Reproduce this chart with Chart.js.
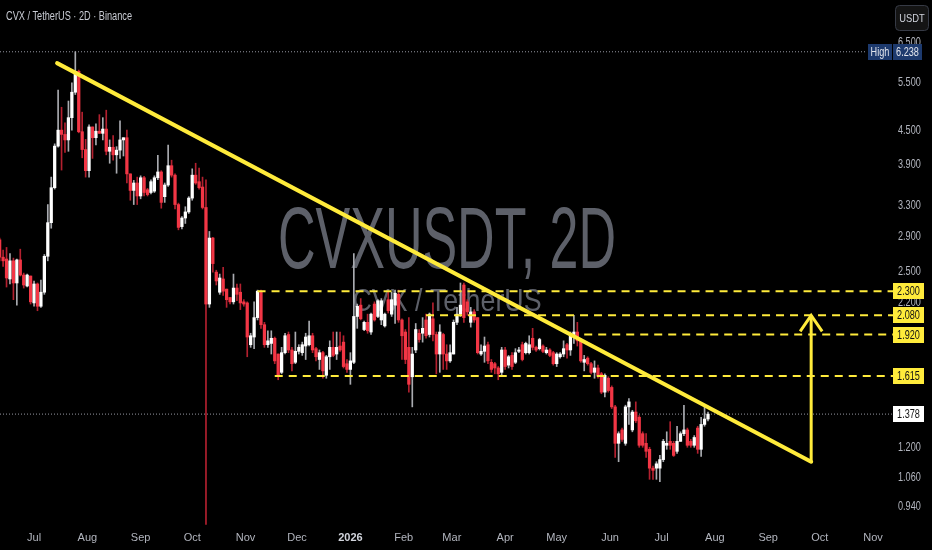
<!DOCTYPE html>
<html>
<head>
<meta charset="utf-8">
<script src="https://cdn.jsdelivr.net/npm/chart.js@4.4.1/dist/chart.umd.min.js"></script>
<style>
  html, body { margin: 0; padding: 0; background: #000; }
  #wrap { width: 932px; height: 550px; position: relative; }
</style>
</head>
<body>
<div id="wrap"><canvas id="chart"></canvas></div>
<script>
// 2D candles, first one on 2025-06-11 (day -20, days counted from 2025-07-01)
const firstDay = -20;
const opens = [2.85,2.65,2.63,2.42,2.61,2.38,2.62,2.46,2.35,2.45,2.19,2.37,2.16,2.29,2.66,3.06,3.54,4.21,4.50,4.42,
  4.32,4.74,5.27,5.75,4.47,4.15,3.80,4.56,4.36,4.48,4.44,4.52,4.12,4.19,4.06,4.14,4.32,4.36,3.75,3.50,
  3.61,3.42,3.69,3.51,3.47,3.49,3.69,3.78,3.41,3.58,3.88,3.73,3.30,3.01,3.12,3.20,3.39,3.73,3.63,3.55,
  3.26,2.18,2.87,2.49,2.29,2.42,2.32,2.24,2.20,2.33,2.29,2.20,2.19,1.84,1.90,2.06,2.30,2.00,1.84,1.85,
  1.89,1.77,1.64,1.78,1.92,1.80,1.71,1.79,1.78,1.83,1.84,1.91,1.81,1.73,1.78,1.62,1.75,1.82,1.77,1.83,
  1.86,1.70,1.66,1.71,2.07,2.17,1.96,2.02,1.94,2.18,2.07,2.04,1.99,2.22,2.09,2.17,2.27,2.04,1.94,1.82,
  1.61,1.80,1.93,1.93,2.04,1.92,2.05,1.92,1.77,1.92,1.77,1.72,1.77,2.02,2.09,2.36,2.20,2.02,2.11,2.06,
  1.77,1.79,1.84,1.71,1.70,1.67,1.64,1.80,1.69,1.76,1.71,1.79,1.84,1.78,1.78,1.89,1.82,1.81,1.83,1.78,
  1.80,1.78,1.70,1.75,1.77,1.84,1.80,1.91,1.94,1.88,1.71,1.74,1.70,1.64,1.67,1.63,1.51,1.60,1.54,1.42,
  1.22,1.29,1.22,1.42,1.29,1.39,1.36,1.27,1.22,1.19,1.10,1.10,1.10,1.14,1.21,1.23,1.22,1.18,1.23,1.27,
  1.29,1.23,1.21,1.30,1.19,1.32,1.35];
const highs = [2.87,2.73,2.76,2.69,2.64,2.63,2.74,2.48,2.47,2.45,2.40,2.38,2.41,2.68,3.30,3.70,4.25,5.32,4.95,4.64,
  5.08,5.48,6.238,5.78,4.85,4.33,4.60,4.56,4.62,4.80,4.74,4.89,4.32,4.40,4.20,4.68,4.36,4.50,3.75,3.65,
  3.70,3.72,3.71,3.53,3.66,3.72,4.05,3.80,3.61,4.23,3.97,3.75,3.32,3.14,3.27,3.41,3.83,3.92,3.84,3.70,
  3.66,2.95,2.88,2.51,2.47,2.54,2.32,2.24,2.47,2.37,2.37,2.22,2.20,1.93,2.20,2.31,2.31,2.02,1.95,1.95,
  1.90,1.77,1.82,1.93,1.94,1.82,1.94,1.84,1.86,1.93,2.03,1.93,1.82,1.80,1.79,1.76,1.87,1.94,1.94,1.94,
  1.91,1.73,1.78,2.69,2.18,2.23,2.03,2.09,2.10,2.20,2.22,2.23,2.10,2.30,2.29,2.31,2.31,2.05,1.96,2.06,
  1.82,2.01,1.96,2.06,2.09,2.10,2.19,1.94,2.00,1.93,1.84,1.84,2.04,2.15,2.38,2.38,2.22,2.15,2.13,2.06,
  1.84,1.90,1.86,1.73,1.71,1.68,1.82,1.82,1.76,1.78,1.81,1.82,1.86,1.86,1.91,1.97,1.83,1.89,1.84,1.82,
  1.81,1.79,1.78,1.78,1.87,1.85,1.94,2.08,2.02,1.89,1.76,1.75,1.71,1.72,1.69,1.64,1.63,1.61,1.55,1.43,
  1.28,1.30,1.43,1.47,1.40,1.45,1.37,1.28,1.27,1.20,1.11,1.13,1.16,1.24,1.28,1.335,1.23,1.31,1.28,1.43,
  1.30,1.24,1.26,1.31,1.36,1.42,1.39];
const lows = [2.61,2.55,2.34,2.37,2.22,2.17,2.45,2.33,2.34,2.18,2.16,2.12,2.15,2.27,2.61,2.99,3.52,4.19,3.81,4.10,
  4.12,4.50,5.22,4.45,4.01,3.70,3.70,4.00,4.23,4.44,4.32,4.06,3.92,3.97,3.76,4.00,4.04,3.61,3.36,3.30,
  3.30,3.38,3.42,3.42,3.45,3.47,3.66,3.25,3.33,3.56,3.70,3.24,2.97,2.98,3.05,3.18,3.36,3.59,3.52,3.24,
  0.87,2.15,2.49,2.36,2.27,2.26,2.15,2.18,2.18,2.21,2.13,2.16,1.75,1.82,1.81,2.04,1.97,1.82,1.82,1.77,
  1.70,1.59,1.63,1.77,1.78,1.65,1.70,1.77,1.76,1.73,1.83,1.78,1.72,1.66,1.60,1.60,1.66,1.75,1.73,1.79,
  1.67,1.64,1.56,1.70,1.97,2.04,1.95,1.93,1.92,2.03,2.06,2.00,1.98,2.10,2.07,2.01,2.02,1.73,1.70,1.51,
  1.42,1.78,1.86,1.86,1.89,1.90,1.87,1.63,1.64,1.66,1.66,1.71,1.77,2.00,2.07,2.02,2.08,1.98,2.02,1.77,
  1.76,1.71,1.70,1.64,1.63,1.59,1.62,1.66,1.67,1.66,1.70,1.78,1.72,1.77,1.77,1.80,1.79,1.80,1.78,1.77,
  1.75,1.69,1.68,1.74,1.75,1.74,1.76,1.85,1.83,1.71,1.65,1.69,1.63,1.60,1.60,1.50,1.48,1.51,1.41,1.15,
  1.13,1.23,1.21,1.32,1.28,1.33,1.20,1.20,1.15,1.05,1.05,1.05,1.04,1.13,1.19,1.19,1.155,1.17,1.23,1.26,
  1.20,1.20,1.20,1.17,1.155,1.31,1.34];
const closes = [2.65,2.61,2.43,2.61,2.38,2.62,2.46,2.36,2.46,2.20,2.37,2.16,2.29,2.66,3.06,3.54,4.21,4.50,4.42,4.32,
  4.74,5.27,5.75,4.47,4.15,3.80,4.56,4.36,4.48,4.44,4.52,4.12,4.19,4.06,4.14,4.32,4.36,3.75,3.50,3.61,
  3.42,3.69,3.47,3.44,3.63,3.69,3.78,3.33,3.58,3.88,3.73,3.30,3.00,3.12,3.20,3.39,3.73,3.61,3.54,3.26,
  2.18,2.87,2.58,2.40,2.43,2.30,2.22,2.20,2.33,2.27,2.19,2.18,1.90,1.91,2.06,2.30,2.00,1.84,1.87,1.89,
  1.72,1.62,1.78,1.91,1.80,1.70,1.79,1.82,1.84,1.90,1.91,1.80,1.75,1.78,1.65,1.75,1.82,1.76,1.82,1.80,
  1.68,1.66,1.72,2.07,2.16,2.05,2.02,1.95,2.09,2.04,2.21,2.21,2.09,2.12,2.22,2.28,2.04,1.91,1.73,1.56,
  1.77,1.96,1.88,1.97,1.91,2.09,1.92,1.77,1.94,1.77,1.72,1.78,2.02,2.09,2.17,2.06,2.11,2.11,2.04,1.78,
  1.79,1.83,1.72,1.66,1.67,1.63,1.80,1.68,1.75,1.68,1.78,1.80,1.73,1.85,1.84,1.82,1.80,1.88,1.79,1.80,
  1.76,1.70,1.77,1.77,1.81,1.80,1.91,1.94,1.87,1.72,1.73,1.70,1.64,1.67,1.62,1.51,1.62,1.52,1.42,1.22,
  1.27,1.24,1.42,1.45,1.39,1.34,1.21,1.21,1.18,1.10,1.09,1.12,1.14,1.23,1.22,1.21,1.16,1.23,1.27,1.29,
  1.21,1.21,1.25,1.19,1.32,1.35,1.378];

// x axis: month starts (days from 2025-07-01)
const monthDays = [0, 31, 62, 92, 123, 153, 184, 215, 243, 274, 304, 335, 365, 396, 427, 457, 488];
const monthLabels = ['Jul', 'Aug', 'Sep', 'Oct', 'Nov', 'Dec', '2026', 'Feb', 'Mar', 'Apr', 'May', 'Jun', 'Jul', 'Aug', 'Sep', 'Oct', 'Nov'];
const priceTicks = [0.94, 1.06, 1.2, 1.36, 2.2, 2.5, 2.9, 3.3, 3.9, 4.5, 5.5, 6.5];

// drawn levels and trendline
const levelPrices = [2.3, 2.08, 1.92, 1.615];
const levelStartDays = [130, 228, 320, 140];
const trendDays = [13.4, 452];
const trendPrices = [5.95, 1.13];
const arrowDays = [452, 452];
const arrowPrices = [1.13, 2.08];
const lastPrice = 1.378;
const highPrice = 6.238;

const X_MIN = -19.8, X_MAX = 499.6;
const UP = '#ffffff', UP_WICK = '#a9abb0', DOWN = '#f23645', DOWN_WICK = '#b3202f';
const YELLOW = '#ffeb3b';
const FONT = "'Liberation Sans', sans-serif";

const candleDays = opens.map((_, i) => firstDay + 2 * i);
const isUp = i => closes[i] >= opens[i];

const wickData = candleDays.map((d, i) => ({ x: d, y: [lows[i], highs[i]] }));
const bodyData = candleDays.map((d, i) => ({ x: d, y: [opens[i], closes[i]] }));

function hLine(price, from, to) {
  return [{ x: from, y: price }, { x: to, y: price }];
}

const datasets = [
  ...levelPrices.map((p, i) => ({
    type: 'line', data: hLine(p, levelStartDays[i], X_MAX), borderColor: YELLOW, borderWidth: 2,
    borderDash: [8, 6], pointRadius: 0, order: 0
  })),
  {
    type: 'line', data: trendDays.map((d, i) => ({ x: d, y: trendPrices[i] })),
    borderColor: YELLOW, borderWidth: 4, pointRadius: 0, borderCapStyle: 'round', order: 0
  },
  {
    type: 'line', data: arrowDays.map((d, i) => ({ x: d, y: arrowPrices[i] })),
    borderColor: YELLOW, borderWidth: 3, pointRadius: 0, order: 0
  },
  {
    type: 'bar', data: bodyData, grouped: false, barThickness: 2.6, minBarLength: 1,
    backgroundColor: c => isUp(c.dataIndex) ? UP : DOWN, borderWidth: 0, order: 1
  },
  {
    type: 'bar', data: wickData, grouped: false, barThickness: 1,
    backgroundColor: c => isUp(c.dataIndex) ? UP_WICK : DOWN_WICK, borderWidth: 0, order: 2
  },
  {
    type: 'line', data: hLine(lastPrice, X_MIN, X_MAX), borderColor: '#9598a1', borderWidth: 1,
    borderDash: [1, 2], pointRadius: 0, order: 3
  },
  {
    type: 'line', data: hLine(highPrice, X_MIN, 484), borderColor: '#9598a1', borderWidth: 1,
    borderDash: [1, 2], pointRadius: 0, order: 3
  }
];

// text squeezed horizontally, TradingView's UI font is narrower than Liberation Sans
function narrowText(ctx, text, x, y, size, sx, align, baseline) {
  ctx.font = size + 'px ' + FONT;
  ctx.save();
  ctx.translate(x, y);
  ctx.scale(sx, 1);
  ctx.textAlign = align;
  ctx.textBaseline = baseline;
  ctx.fillText(text, 0, 0);
  ctx.restore();
}

function fitText(ctx, text, cx, baseline, size, width) {
  ctx.font = size + 'px ' + FONT;
  const w = ctx.measureText(text).width;
  narrowText(ctx, text, cx, baseline, size, width / w, 'center', 'alphabetic');
}

function priceBox(ctx, x, y, w, text, fill, color) {
  const top = Math.round(y) - 8;
  ctx.fillStyle = fill;
  ctx.fillRect(x, top, w, 16);
  ctx.fillStyle = color;
  narrowText(ctx, text, x + w / 2, top + 8.5, 12, 0.76, 'center', 'middle');
}

const overlay = {
  id: 'overlay',
  beforeDatasetsDraw(chart) {
    const ctx = chart.ctx;
    ctx.save();
    ctx.fillStyle = '#5d6069';
    fitText(ctx, 'CVXUSDT, 2D', 447, 268, 88, 338);
    fitText(ctx, 'CVX / TetherUS', 447, 311, 32, 189);
    ctx.restore();
  },
  afterDatasetsDraw(chart) {
    const ctx = chart.ctx, xs = chart.scales.x, ys = chart.scales.y;
    const ax = xs.getPixelForValue(arrowDays[1]);
    const ay = ys.getPixelForValue(arrowPrices[1]);
    ctx.save();
    ctx.strokeStyle = YELLOW;
    ctx.lineWidth = 3;
    ctx.lineJoin = 'miter';
    ctx.beginPath();
    ctx.moveTo(ax - 11, ay + 16);
    ctx.lineTo(ax, ay);
    ctx.lineTo(ax + 11, ay + 16);
    ctx.stroke();
    ctx.restore();
  },
  afterDraw(chart) {
    const ctx = chart.ctx, ys = chart.scales.y, right = chart.chartArea.right;
    ctx.save();
    ctx.fillStyle = '#c9ccd4';
    ctx.font = '12px ' + FONT;
    const title = 'CVX / TetherUS \u00b7 2D \u00b7 Binance';
    narrowText(ctx, title, 6, 20, 12, 126 / ctx.measureText(title).width, 'left', 'alphabetic');

    // price scale labels
    ctx.fillStyle = '#b2b5be';
    priceTicks.forEach(v => narrowText(ctx, v.toFixed(3), right + 5, Math.round(ys.getPixelForValue(v)) + 0.5, 12, 0.76, 'left', 'middle'));

    levelPrices.forEach(p => priceBox(ctx, right, ys.getPixelForValue(p), 31, p.toFixed(3), YELLOW, '#131313'));
    priceBox(ctx, right, ys.getPixelForValue(lastPrice), 31, lastPrice.toFixed(3), '#ffffff', '#131313');
    const hy = ys.getPixelForValue(highPrice);
    priceBox(ctx, right - 25, hy, 24, 'High', '#1d3a6e', '#e0e3eb');
    priceBox(ctx, right, hy, 29, highPrice.toFixed(3), '#1d3a6e', '#e0e3eb');

    // currency button
    ctx.beginPath();
    ctx.roundRect(895.5, 5.5, 33, 25, 4);
    ctx.fillStyle = '#141414';
    ctx.fill();
    ctx.strokeStyle = '#363a45';
    ctx.lineWidth = 1;
    ctx.stroke();
    ctx.fillStyle = '#d1d4dc';
    narrowText(ctx, 'USDT', 912, 18.5, 11, 0.85, 'center', 'middle');
    ctx.restore();
  }
};

new Chart(document.getElementById('chart'), {
  type: 'bar',
  data: { datasets },
  plugins: [overlay],
  options: {
    responsive: true,
    maintainAspectRatio: false,
    animation: false,
    layout: { padding: 0 },
    plugins: { legend: { display: false }, tooltip: { enabled: false } },
    scales: {
      x: {
        type: 'linear', min: X_MIN, max: X_MAX, offset: false,
        grid: { display: false, drawTicks: false }, border: { display: false },
        afterBuildTicks: s => { s.ticks = monthDays.map(v => ({ value: v })); },
        afterFit: s => { s.height = 25; s.paddingLeft = 0; s.paddingRight = 0; },
        ticks: {
          autoSkip: false, maxRotation: 0, padding: 6,
          callback: (v, i) => monthLabels[i],
          color: c => monthLabels[c.index] === '2026' ? '#d1d4dc' : '#b2b5be',
          font: c => ({ family: FONT, size: 11, weight: monthLabels[c.index] === '2026' ? 'bold' : 'normal' })
        }
      },
      y: {
        type: 'logarithmic', position: 'right', min: 0.868, max: 7.74, bounds: 'data',
        grid: { display: false, drawTicks: false }, border: { display: false },
        afterBuildTicks: s => { s.ticks = priceTicks.map(v => ({ value: v })); },
        afterFit: s => { s.width = 39; s.paddingTop = 0; s.paddingBottom = 0; },
        // labels drawn by the overlay plugin in a narrower face
        ticks: { display: false }
      }
    }
  }
});
</script>
</body>
</html>
